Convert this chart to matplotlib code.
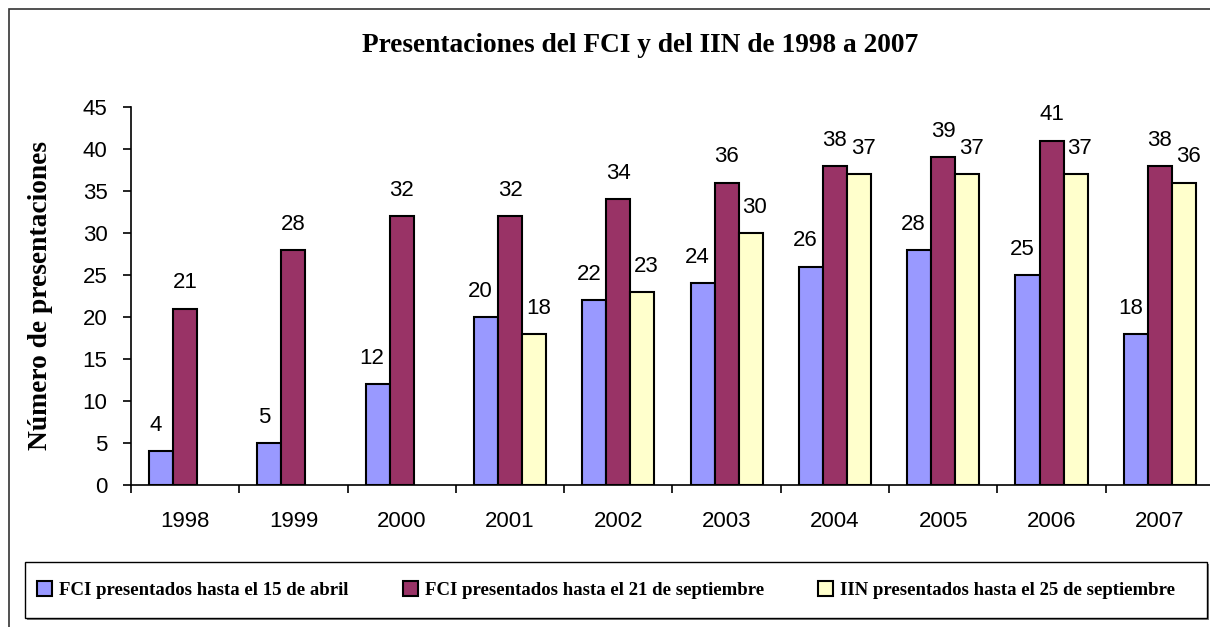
import matplotlib
matplotlib.use("Agg")
import matplotlib.pyplot as plt
from matplotlib.patches import Rectangle, Patch
import numpy as np

years = ["1998", "1999", "2000", "2001", "2002", "2003", "2004", "2005", "2006", "2007"]
fci_abril = [4, 5, 12, 20, 22, 24, 26, 28, 25, 18]
fci_sept = [21, 28, 32, 32, 34, 36, 38, 39, 41, 38]
iin_sept = [0, 0, 0, 18, 23, 30, 37, 37, 37, 36]
series_names = ["FCI presentados hasta el 15 de abril",
                "FCI presentados hasta el 21 de septiembre",
                "IIN presentados hasta el 25 de septiembre"]
colors = ["#9999FF", "#993366", "#FFFFCC"]
title = "Presentaciones del FCI y del IIN de 1998 a 2007"
ylabel = "Número de presentaciones"

W, H = 1210, 627
fig = plt.figure(figsize=(W / 100, H / 100), dpi=100)

# outer frame (only top/left visible)
fig.patches.append(Rectangle((9 / W, -0.05), 1.1, 1 - 9 / H + 0.05, transform=fig.transFigure,
                             fill=False, edgecolor="#333333", linewidth=1.2))

ax = fig.add_axes([131 / W, 1 - 485 / H, 1083 / W, 378 / H])
x = np.arange(len(years))
bw = 0.222
data = [fci_abril, fci_sept, iin_sept]
label_dx = [-4, 0, 3]
for i, (vals, c) in enumerate(zip(data, colors)):
    idx = [k for k, v in enumerate(vals) if v]
    xs = x[idx] + (i - 1) * bw
    vs = [vals[k] for k in idx]
    bars = ax.bar(xs, vs, bw, color=c, edgecolor="black", linewidth=1.5,
                  label=series_names[i], zorder=3)
    anns = ax.bar_label(bars, labels=[str(v) for v in vs], padding=11,
                        fontsize=16, family="Liberation Sans")
    for a in anns:
        a.xyann = (label_dx[i], 11)

ax.set_xlim(-0.5, len(years) - 0.5)
ax.set_ylim(0, 45)
ax.set_yticks(range(0, 46, 5))
ax.set_xticks(np.arange(-0.5, len(years), 1.0))
ax.set_xticklabels([])
ax.set_xticks(x, minor=True)
ax.set_xticklabels(years, minor=True, fontsize=16, family="Liberation Sans")
ax.tick_params(axis="x", which="major", direction="out", length=6, width=1.2)
ax.tick_params(axis="x", which="minor", length=0, pad=19)
ax.tick_params(axis="y", direction="out", length=6, width=1.2, pad=11, labelsize=16)
for lab in ax.get_yticklabels():
    lab.set_family("Liberation Sans")
for s in ["top", "right"]:
    ax.spines[s].set_visible(False)
for s in ["left", "bottom"]:
    ax.spines[s].set_linewidth(1.2)

ax.set_ylabel(ylabel, fontsize=19.8, fontweight="bold", family="Liberation Serif")
ax.yaxis.set_label_coords((53 - 131) / 1083, 0.5)
fig.text(640 / W, 1 - 45 / H, title, ha="center", va="center", fontsize=19.7,
         fontweight="bold", family="Liberation Serif")

# legend box with shadow
fig.patches.append(Rectangle((27 / W, 1 - 620 / H), 1182 / W, 56 / H, transform=fig.transFigure,
                             facecolor="#808080", edgecolor="none"))
fig.patches.append(Rectangle((25 / W, 1 - 618 / H), 1182 / W, 56 / H, transform=fig.transFigure,
                             facecolor="white", edgecolor="black", linewidth=1.0))
handles = [Patch(facecolor=c, edgecolor="black", linewidth=1.5) for c in colors]
leg = fig.legend(handles, series_names, loc="center left", bbox_to_anchor=(37 / W, 1 - 590 / H),
                 ncol=3, frameon=False, borderpad=0, borderaxespad=0,
                 prop={"family": "Liberation Serif", "weight": "bold", "size": 13.5},
                 handlelength=0.8, handleheight=0.8, handletextpad=0.37, columnspacing=2.9)

fig.savefig("out.png", dpi=100)
